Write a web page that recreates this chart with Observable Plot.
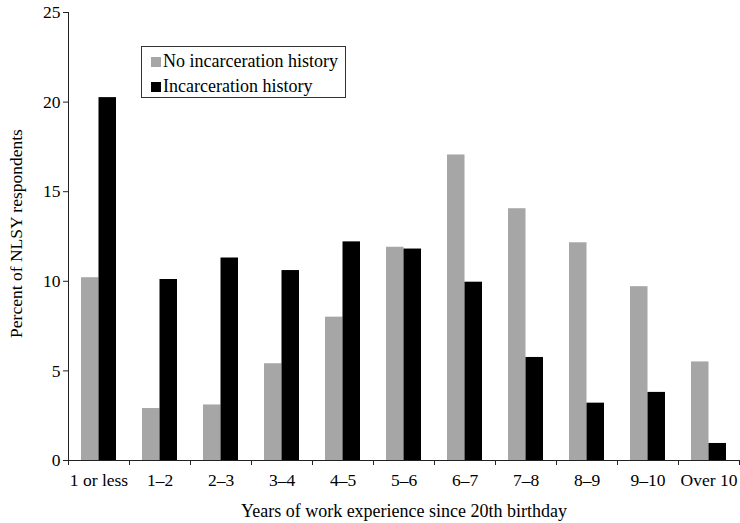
<!DOCTYPE html>
<html>
<head>
<meta charset="utf-8">
<script src="https://cdn.jsdelivr.net/npm/d3@7"></script>
<script src="https://cdn.jsdelivr.net/npm/@observablehq/plot@0.6"></script>
<style>
  html, body { margin: 0; padding: 0; background: #fff; }
  #wrap { position: relative; width: 740px; height: 523px; font-family: "Liberation Serif", "DejaVu Serif", serif; }
  #legend { position: absolute; left: 141px; top: 46px; width: 203px; height: 50px; border: 1px solid #333; background: #fff; font-size: 18px; color: #000; }
  .row { position: absolute; left: 9px; white-space: nowrap; line-height: 20px; }
  .sw { display: inline-block; width: 10px; height: 10px; margin-right: 2px; vertical-align: 0px; }
</style>
</head>
<body>
<div id="wrap">
  <div id="chart"></div>
  <div id="legend">
    <div class="row" style="top:4px"><span class="sw" style="background:#a6a6a6"></span>No incarceration history</div>
    <div class="row" style="top:29px"><span class="sw" style="background:#000"></span>Incarceration history</div>
  </div>
</div>
<script>
const categories = ["1 or less", "1–2", "2–3", "3–4", "4–5", "5–6", "6–7", "7–8", "8–9", "9–10", "Over 10"];
const noIncarceration = [10.2, 2.9, 3.1, 5.4, 8.0, 11.9, 17.05, 14.05, 12.15, 9.7, 5.5];
const incarceration = [20.25, 10.1, 11.3, 10.6, 12.2, 11.8, 9.95, 5.75, 3.2, 3.8, 0.95];
const yTicks = [0, 5, 10, 15, 20, 25];
const yLabel = "Percent of NLSY respondents";
const xLabel = "Years of work experience since 20th birthday";

const noData = categories.map((c, i) => ({cat: c, value: noIncarceration[i]}));
const incData = categories.map((c, i) => ({cat: c, value: incarceration[i]}));

const chart = Plot.plot({
  width: 740,
  height: 523,
  marginTop: 12,
  marginBottom: 63,
  marginLeft: 68,
  marginRight: 1,
  style: {fontFamily: "Liberation Serif", fontSize: "17.5px", color: "#000", background: "#fff"},
  x: {domain: categories, padding: 0, axis: null},
  y: {domain: [0, 25], axis: null},
  marks: [
    Plot.barY(noData, {x: "cat", y: "value", fill: "#a6a6a6", insetLeft: 13, insetRight: 30.5}),
    Plot.barY(incData, {x: "cat", y: "value", fill: "#000", insetLeft: 30.5, insetRight: 13}),
    Plot.ruleY([0], {stroke: "#222"}),
    Plot.ruleX([categories[0]], {dx: -30.5, y1: 0, y2: 25, stroke: "#222"}),
    Plot.axisY(yTicks, {tickSize: 5, tickPadding: 3, label: null, stroke: "#222"}),
    Plot.axisX({tickSize: 0, tickPadding: 13, label: null}),
    Plot.axisX({tickSize: 5, dx: -30.5, tickFormat: () => "", label: null, stroke: "#222"}),
    Plot.axisX([categories[categories.length - 1]], {tickSize: 5, dx: 30.5, tickFormat: () => "", label: null, stroke: "#222"}),
    Plot.text([yLabel], {frameAnchor: "left", textAnchor: "middle", dx: -52, dy: -3, rotate: -90, fontSize: 17.5}),
    Plot.text([xLabel], {frameAnchor: "bottom", dy: 56, fontSize: 18})
  ]
});
document.getElementById("chart").appendChild(chart);
</script>
</body>
</html>
